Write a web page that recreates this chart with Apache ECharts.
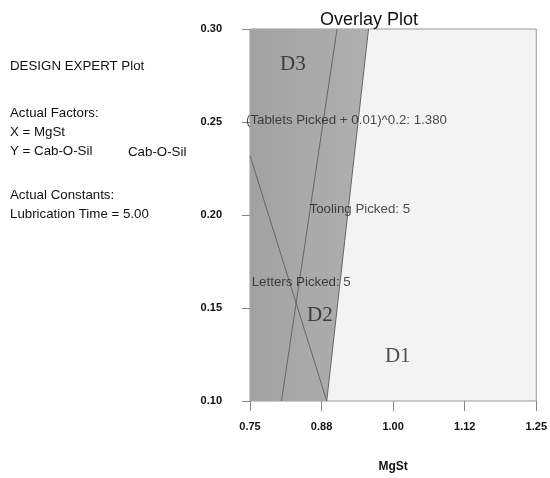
<!DOCTYPE html>
<html>
<head>
<meta charset="utf-8">
<style>
  html, body { margin: 0; padding: 0; background: #fff; }
  #chart { width: 550px; height: 478px; }
</style>
<script src="https://cdn.jsdelivr.net/npm/echarts@6/dist/echarts.min.js"></script>
</head>
<body>
<div id="chart"></div>
<script>
  // axis ranges and tick labels
  var xTickLabels = ['0.75', '0.88', '1.00', '1.12', '1.25'];
  var yTickLabels = ['0.10', '0.15', '0.20', '0.25', '0.30'];

  // contour lines [MgSt, Cab-O-Sil]
  var toolingLine = [[0.957, 0.30], [0.884, 0.10]];
  var tabletsLine = [[0.902, 0.30], [0.805, 0.10]];
  var lettersLine = [[0.75, 0.232], [0.884, 0.10]];

  // shaded (not desirable) region, bounded by the tooling contour
  var shadedRegion = [[0.75, 0.10], [0.884, 0.10], [0.957, 0.30], [0.75, 0.30]];

  // contour labels and region names
  var contourLabels = [
    { name: '(Tablets Picked + 0.01)^0.2: 1.380', value: [0.743, 0.251] },
    { name: 'Tooling Picked: 5', value: [0.854, 0.203] },
    { name: 'Letters Picked: 5', value: [0.753, 0.164] }
  ];
  var regionLabels = [
    { name: 'D3', value: [0.825, 0.281] },
    { name: 'D2', value: [0.872, 0.146] },
    { name: 'D1', value: [1.008, 0.124] }
  ];

  var infoLines = [
    ['DESIGN EXPERT Plot', 68],
    ['Actual Factors:', 115],
    ['X = MgSt', 134],
    ['Y = Cab-O-Sil', 153],
    ['Actual Constants:', 197],
    ['Lubrication Time = 5.00', 216]
  ];

  var chart = echarts.init(document.getElementById('chart'));

  function lineSeries(data) {
    return {
      type: 'line',
      data: data,
      symbol: 'none',
      silent: true,
      z: 3,
      lineStyle: { color: '#666', width: 1 }
    };
  }

  var infoFont = '13.3px "Liberation Sans", Arial, sans-serif';
  var graphics = infoLines.map(function (l) {
    return {
      type: 'text', left: 10, top: l[1] - 8,
      style: { text: l[0], fill: '#111', font: infoFont }
    };
  });
  graphics.push({
    type: 'text', left: 128, top: 146,
    style: { text: 'Cab-O-Sil', fill: '#111', font: infoFont }
  });

  var option = {
    animation: false,
    title: {
      text: 'Overlay Plot',
      left: 364,
      top: 6,
      textAlign: 'center',
      textStyle: { fontFamily: '"Liberation Sans", Arial, sans-serif', fontSize: 18, fontWeight: 'normal', color: '#111' }
    },
    graphic: graphics,
    grid: {
      left: 250, right: 10, top: 29, bottom: 65,
      show: true,
      backgroundColor: '#f3f3f3',
      borderColor: '#999',
      borderWidth: 1
    },
    xAxis: {
      type: 'value',
      min: 0.75, max: 1.25, interval: 0.125,
      name: 'MgSt',
      nameLocation: 'middle',
      nameGap: 60,
      nameTextStyle: { fontFamily: '"Liberation Sans", Arial, sans-serif', fontSize: 12, fontWeight: 'bold', color: '#111' },
      axisLine: { show: false },
      axisTick: { show: true, length: 10, lineStyle: { color: '#888' } },
      splitLine: { show: false },
      axisLabel: {
        margin: 20,
        fontFamily: '"Liberation Sans", Arial, sans-serif',
        fontSize: 11, fontWeight: 'bold', color: '#111',
        formatter: function (v) {
          return xTickLabels[Math.round((v - 0.75) / 0.125)];
        }
      }
    },
    yAxis: {
      type: 'value',
      min: 0.10, max: 0.30, interval: 0.05,
      axisLine: { show: false },
      axisTick: { show: true, length: 8, lineStyle: { color: '#888' } },
      splitLine: { show: false },
      axisLabel: {
        margin: 28,
        fontFamily: '"Liberation Sans", Arial, sans-serif',
        fontSize: 11, fontWeight: 'bold', color: '#111',
        formatter: function (v) {
          return yTickLabels[Math.round((v - 0.10) / 0.05)];
        }
      }
    },
    series: [
      {
        type: 'custom',
        silent: true,
        z: 1,
        data: [0],
        renderItem: function (params, api) {
          return {
            type: 'polygon',
            shape: { points: shadedRegion.map(function (p) { return api.coord(p); }) },
            style: {
              fill: new echarts.graphic.LinearGradient(0, 0, 1, 0, [
                { offset: 0, color: '#a2a2a2' },
                { offset: 1, color: '#b0b0b0' }
              ])
            }
          };
        }
      },
      lineSeries(toolingLine),
      lineSeries(tabletsLine),
      lineSeries(lettersLine),
      {
        type: 'scatter',
        symbolSize: 0,
        silent: true,
        clip: false,
        z: 5,
        data: contourLabels,
        label: {
          show: true,
          position: 'right',
          distance: 0,
          formatter: '{b}',
          fontFamily: '"Liberation Sans", Arial, sans-serif',
          fontSize: 13.3,
          color: '#222'
        }
      },
      {
        type: 'scatter',
        symbolSize: 0,
        silent: true,
        z: 5,
        data: regionLabels,
        label: {
          show: true,
          position: 'inside',
          formatter: '{b}',
          fontFamily: '"Liberation Serif", "Times New Roman", serif',
          fontSize: 21,
          color: '#222'
        }
      }
    ]
  };

  chart.setOption(option);
</script>
</body>
</html>
